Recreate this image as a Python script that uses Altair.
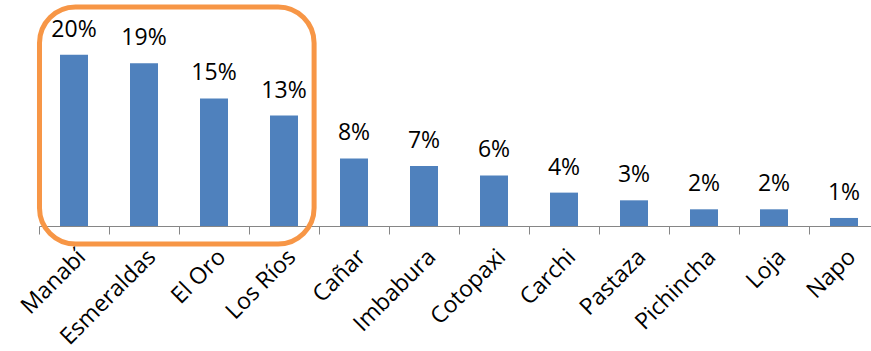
import altair as alt
import pandas as pd

provinces = ["Manabí", "Esmeraldas", "El Oro", "Los Ríos", "Cañar", "Imbabura",
             "Cotopaxi", "Carchi", "Pastaza", "Pichincha", "Loja", "Napo"]
shares = [0.200, 0.190, 0.149, 0.129, 0.079, 0.070, 0.059, 0.039, 0.030, 0.0195, 0.0195, 0.0094]

df = pd.DataFrame({"provincia": provinces, "share": shares})

# highlight box around the first four provinces (in category-index units / share units)
box = pd.DataFrame({"x0": [0.007], "x1": [3.93], "y0": [-0.021], "y1": [0.2558]})

FONT = "Open Sans"
xscale = alt.Scale(range=[0, 840], paddingInner=0.6, paddingOuter=0.3)
yscale = alt.Scale(domain=[0, 0.25])

bars = alt.Chart(df).mark_bar(color="#4F81BD").encode(
    x=alt.X("provincia:N", sort=provinces, scale=xscale, title=None,
            axis=alt.Axis(orient="bottom", labelAngle=-45, labelAlign="right",
                          labelBaseline="middle",
                          labelFont=FONT, labelFontSize=23, labelColor="#000000",
                          labelPadding=19, labelLimit=400, labelOffset=8,
                          domainColor="#868686", tickColor="#868686", tickSize=8,
                          bandPosition=-0.75, grid=False)),
    y=alt.Y("share:Q", scale=yscale, axis=None),
)

labels = alt.Chart(df).mark_text(font=FONT, fontSize=23, color="#000000",
                                 baseline="alphabetic", dy=-18).encode(
    x=alt.X("provincia:N", sort=provinces, scale=xscale, axis=None),
    y=alt.Y("share:Q", scale=yscale, axis=None),
    text=alt.Text("share:Q", format=".0%"),
)

highlight = alt.Chart(box).mark_rect(filled=False, stroke="#F79646", strokeWidth=5,
                                      cornerRadius=36).encode(
    x=alt.X("x0:Q", scale=alt.Scale(domain=[0, 12], range=[0, 840]), axis=None),
    x2="x1:Q",
    y=alt.Y("y0:Q", scale=yscale, axis=None),
    y2="y1:Q",
)

chart = alt.layer(bars, labels, highlight).resolve_scale(x="independent").properties(
    width=832, height=214,
    background="#ffffff",
    autosize=alt.AutoSizeParams(type="none"),
    padding={"left": 39, "top": 12, "right": 0, "bottom": 125},
).configure_view(stroke="transparent", strokeWidth=0)

chart.save("out.html", embed_options={"renderer": "svg", "actions": False})
